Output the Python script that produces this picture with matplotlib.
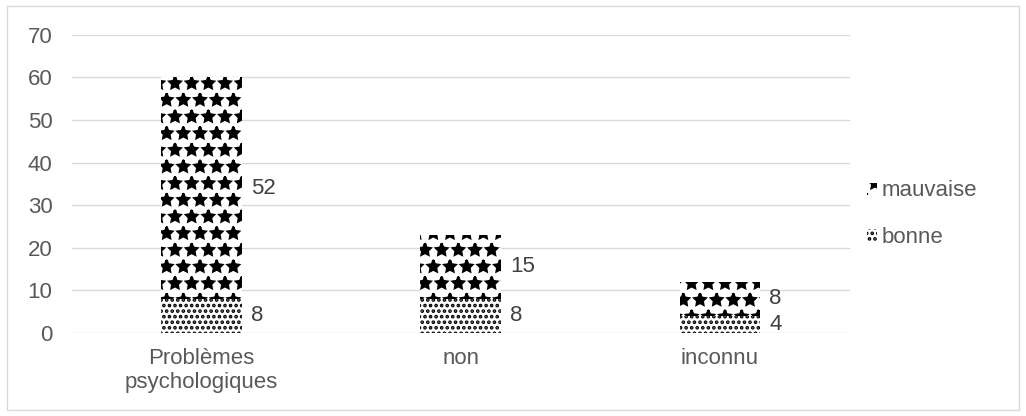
import matplotlib.pyplot as plt
import matplotlib.patches as mpatches
import numpy as np

categories = ["Problèmes\npsychologiques", "non", "inconnu"]
bonne = [8, 8, 4]
mauvaise = [52, 15, 8]
yticks = [0, 10, 20, 30, 40, 50, 60, 70]

plt.rcParams['font.family'] = ['Liberation Sans', 'DejaVu Sans']
plt.rcParams['hatch.linewidth'] = 1.8
plt.rcParams['hatch.color'] = 'black'

fig = plt.figure(figsize=(10.26, 4.16), dpi=100)
ax = fig.add_axes([0.070, 0.1995, 0.758, 0.717])

x = np.arange(len(categories))
width = 0.31
b1 = ax.bar(x, bonne, width, color='white', edgecolor='black', linewidth=0, hatch='...',
            label='bonne', zorder=2)
b2 = ax.bar(x, mauvaise, width, bottom=bonne, color='white', edgecolor='black', linewidth=0,
            hatch='*', label='mauvaise', zorder=2)

# etichete la dreapta fiecarui segment
fs = 16
for i in range(len(categories)):
    ax.text(x[i] + width / 2 + 0.035, bonne[i] / 2, str(bonne[i]), va='center', ha='left',
            fontsize=fs, color='#404040')
    ax.text(x[i] + width / 2 + 0.035, bonne[i] + mauvaise[i] / 2, str(mauvaise[i]), va='center',
            ha='left', fontsize=fs, color='#404040')

ax.set_ylim(0, 70)
ax.set_xlim(-0.5, 2.5)
ax.set_yticks(yticks)
ax.set_xticks(x)
ax.set_xticklabels(categories)
ax.yaxis.grid(True, color='#d9d9d9', linewidth=1)
ax.set_axisbelow(True)
for s in ax.spines.values():
    s.set_visible(False)
ax.tick_params(length=0, labelsize=fs, labelcolor='#595959')
ax.tick_params(axis='y', pad=14)
ax.tick_params(axis='x', pad=11)

handles = [b2, b1]
leg = fig.legend(handles, ['mauvaise', 'bonne'], loc='center left', bbox_to_anchor=(0.826, 0.485),
                 frameon=False, fontsize=fs, handlelength=0.45, handleheight=0.45, handletextpad=0.2,
                 labelspacing=1.15, labelcolor='#595959')

fig.patches.append(mpatches.Rectangle((0.007, 0.015), 0.986, 0.97, transform=fig.transFigure,
                                      fill=False, edgecolor='#d9d9d9', linewidth=1))

fig.savefig("out.png", dpi=100)
